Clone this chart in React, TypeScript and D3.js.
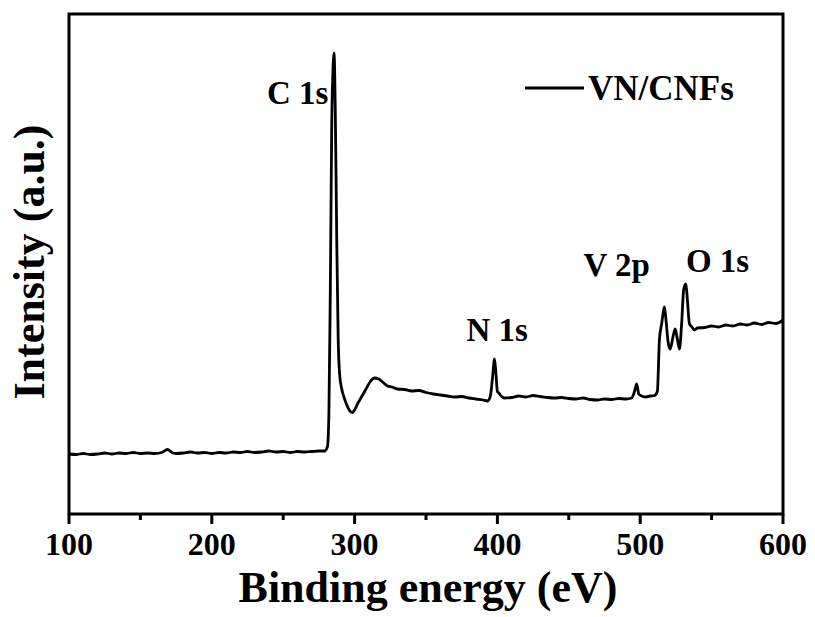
import React from "react";
import * as d3 from "d3";

const width = 815;
const height = 617;
const margin = { top: 14, right: 32, bottom: 103, left: 69 };

// binding energy (eV) of each sampled point
const energy = [
  100, 105, 110, 115, 120, 125, 130, 135, 140, 145, 150, 155, 160, 165, 169, 172, 175, 180, 185, 190,
  195, 200, 205, 210, 215, 220, 225, 230, 235, 240, 245, 250, 255, 260, 265, 270, 275, 279, 281, 282,
  283, 284, 285, 285.6, 286.5, 287.5, 288.5, 289.5, 291, 293, 295, 297, 298.5, 300, 302, 305, 308, 311,
  314, 317, 320, 323, 326, 330, 335, 340, 345, 350, 355, 360, 365, 370, 375, 380, 385, 390, 393, 395,
  396.5, 398, 399, 400, 401, 403, 405, 410, 415, 420, 425, 430, 435, 440, 445, 450, 455, 460, 465, 470,
  475, 480, 485, 490, 494, 496, 497.5, 499, 501, 504, 507, 510, 512, 513.5, 515, 516, 517, 518, 519.5,
  521, 523, 524.5, 526, 527.5, 529, 530.5, 532, 533, 534.5, 536, 538, 540, 545, 550, 555, 560, 565, 570,
  575, 580, 585, 590, 595, 600,
];

// intensity (a.u.)
const intensity = [
  12.0, 11.9, 12.1, 11.9, 12.0, 12.2, 12.0, 12.2, 12.1, 12.3, 12.1, 12.2, 12.1, 12.3, 12.9, 12.3, 12.1, 12.2, 12.4, 12.2,
  12.3, 12.1, 12.3, 12.2, 12.4, 12.3, 12.5, 12.3, 12.4, 12.6, 12.4, 12.5, 12.3, 12.5, 12.4, 12.5, 12.6, 12.6, 13.5, 20,
  45, 78, 90, 92.2, 80, 55, 35, 28, 25, 23, 21.5, 20.5, 20.3, 20.8, 22, 23.5, 25, 26.5,
  27.2, 27, 26.3, 25.6, 25.4, 25.0, 24.9, 24.6, 24.7, 24.3, 24.0, 23.8, 23.6, 23.4, 23.5, 23.2, 23.0, 22.8, 22.6, 23.5,
  27, 31, 28, 24.5, 24.2, 23.5, 23.2, 23.3, 23.6, 23.4, 23.7, 23.5, 23.3, 23.2, 23.3, 23.1, 23.0, 23.2, 22.9, 22.8,
  23.0, 22.9, 23.1, 23.0, 23.2, 24.5, 26, 24, 23.6, 23.4, 23.6, 23.7, 24.5, 35, 38, 40, 41.4, 39, 34.5,
  33.0, 35.5, 37, 35, 33.0, 38, 45, 46, 43, 38, 37.5, 36.8, 37.2, 37.3, 37.6, 37.4, 37.8, 37.6, 38.0,
  37.8, 38.2, 37.9, 38.3, 38.1, 38.8,
];

const majorTicks = [100, 200, 300, 400, 500, 600];
const minorTicks = [150, 250, 350, 450, 550];

const peakLabels = [
  { text: "C 1s", e: 285.6 },
  { text: "N 1s", e: 398 },
  { text: "V 2p", e: 517 },
  { text: "O 1s", e: 532 },
];
// label offsets relative to the peak (pixels)
const labelOffset: Record<string, [number, number]> = {
  "C 1s": [-67, 51],
  "N 1s": [-28, -18],
  "V 2p": [-81, -31],
  "O 1s": [0, -12],
};

const seriesName = "VN/CNFs";
const font = "'Liberation Serif', 'Times New Roman', serif";

export default function App() {
  const innerWidth = width - margin.left - margin.right;
  const innerHeight = height - margin.top - margin.bottom;

  const x = d3.scaleLinear().domain([100, 600]).range([0, innerWidth]);
  const y = d3.scaleLinear().domain([0, 100]).range([innerHeight, 0]);

  const data = energy.map((e, i) => ({ e, v: intensity[i] }));
  const path = d3
    .line<{ e: number; v: number }>()
    .x((d) => x(d.e))
    .y((d) => y(d.v))
    .curve(d3.curveMonotoneX)(data);

  return (
    <svg width={width} height={height} style={{ display: "block", position: "absolute", left: 0, top: 0 }}>
      <rect width={width} height={height} fill="white" />
      <g transform={`translate(${margin.left},${margin.top})`} fontFamily={font} fontWeight="bold">
        <path d={path ?? ""} fill="none" stroke="black" strokeWidth={2.8} strokeLinejoin="round" />

        <rect x={0} y={0} width={innerWidth} height={innerHeight} fill="none" stroke="black" strokeWidth={3} />

        {majorTicks.map((t) => (
          <g key={t}>
            <line x1={x(t)} x2={x(t)} y1={innerHeight} y2={innerHeight + 10} stroke="black" strokeWidth={3} />
            <text x={x(t)} y={innerHeight + 41} fontSize={32} textAnchor="middle">
              {t}
            </text>
          </g>
        ))}
        {minorTicks.map((t) => (
          <line key={t} x1={x(t)} x2={x(t)} y1={innerHeight} y2={innerHeight + 6} stroke="black" strokeWidth={3} />
        ))}

        <text x={428 - margin.left} y={innerHeight + 88} fontSize={44} textAnchor="middle">
          Binding energy (eV)
        </text>
        <text transform={`translate(${44 - margin.left},${248}) rotate(-90)`} fontSize={44} textAnchor="middle">
          Intensity (a.u.)
        </text>

        {peakLabels.map((p) => {
          const [dx, dy] = labelOffset[p.text];
          const idx = energy.indexOf(p.e);
          return (
            <text key={p.text} x={x(p.e) + dx} y={y(intensity[idx]) + dy} fontSize={33}>
              {p.text}
            </text>
          );
        })}

        <line x1={456} x2={515} y1={74} y2={74} stroke="black" strokeWidth={3} />
        <text x={519} y={86} fontSize={35}>
          {seriesName}
        </text>
      </g>
    </svg>
  );
}
